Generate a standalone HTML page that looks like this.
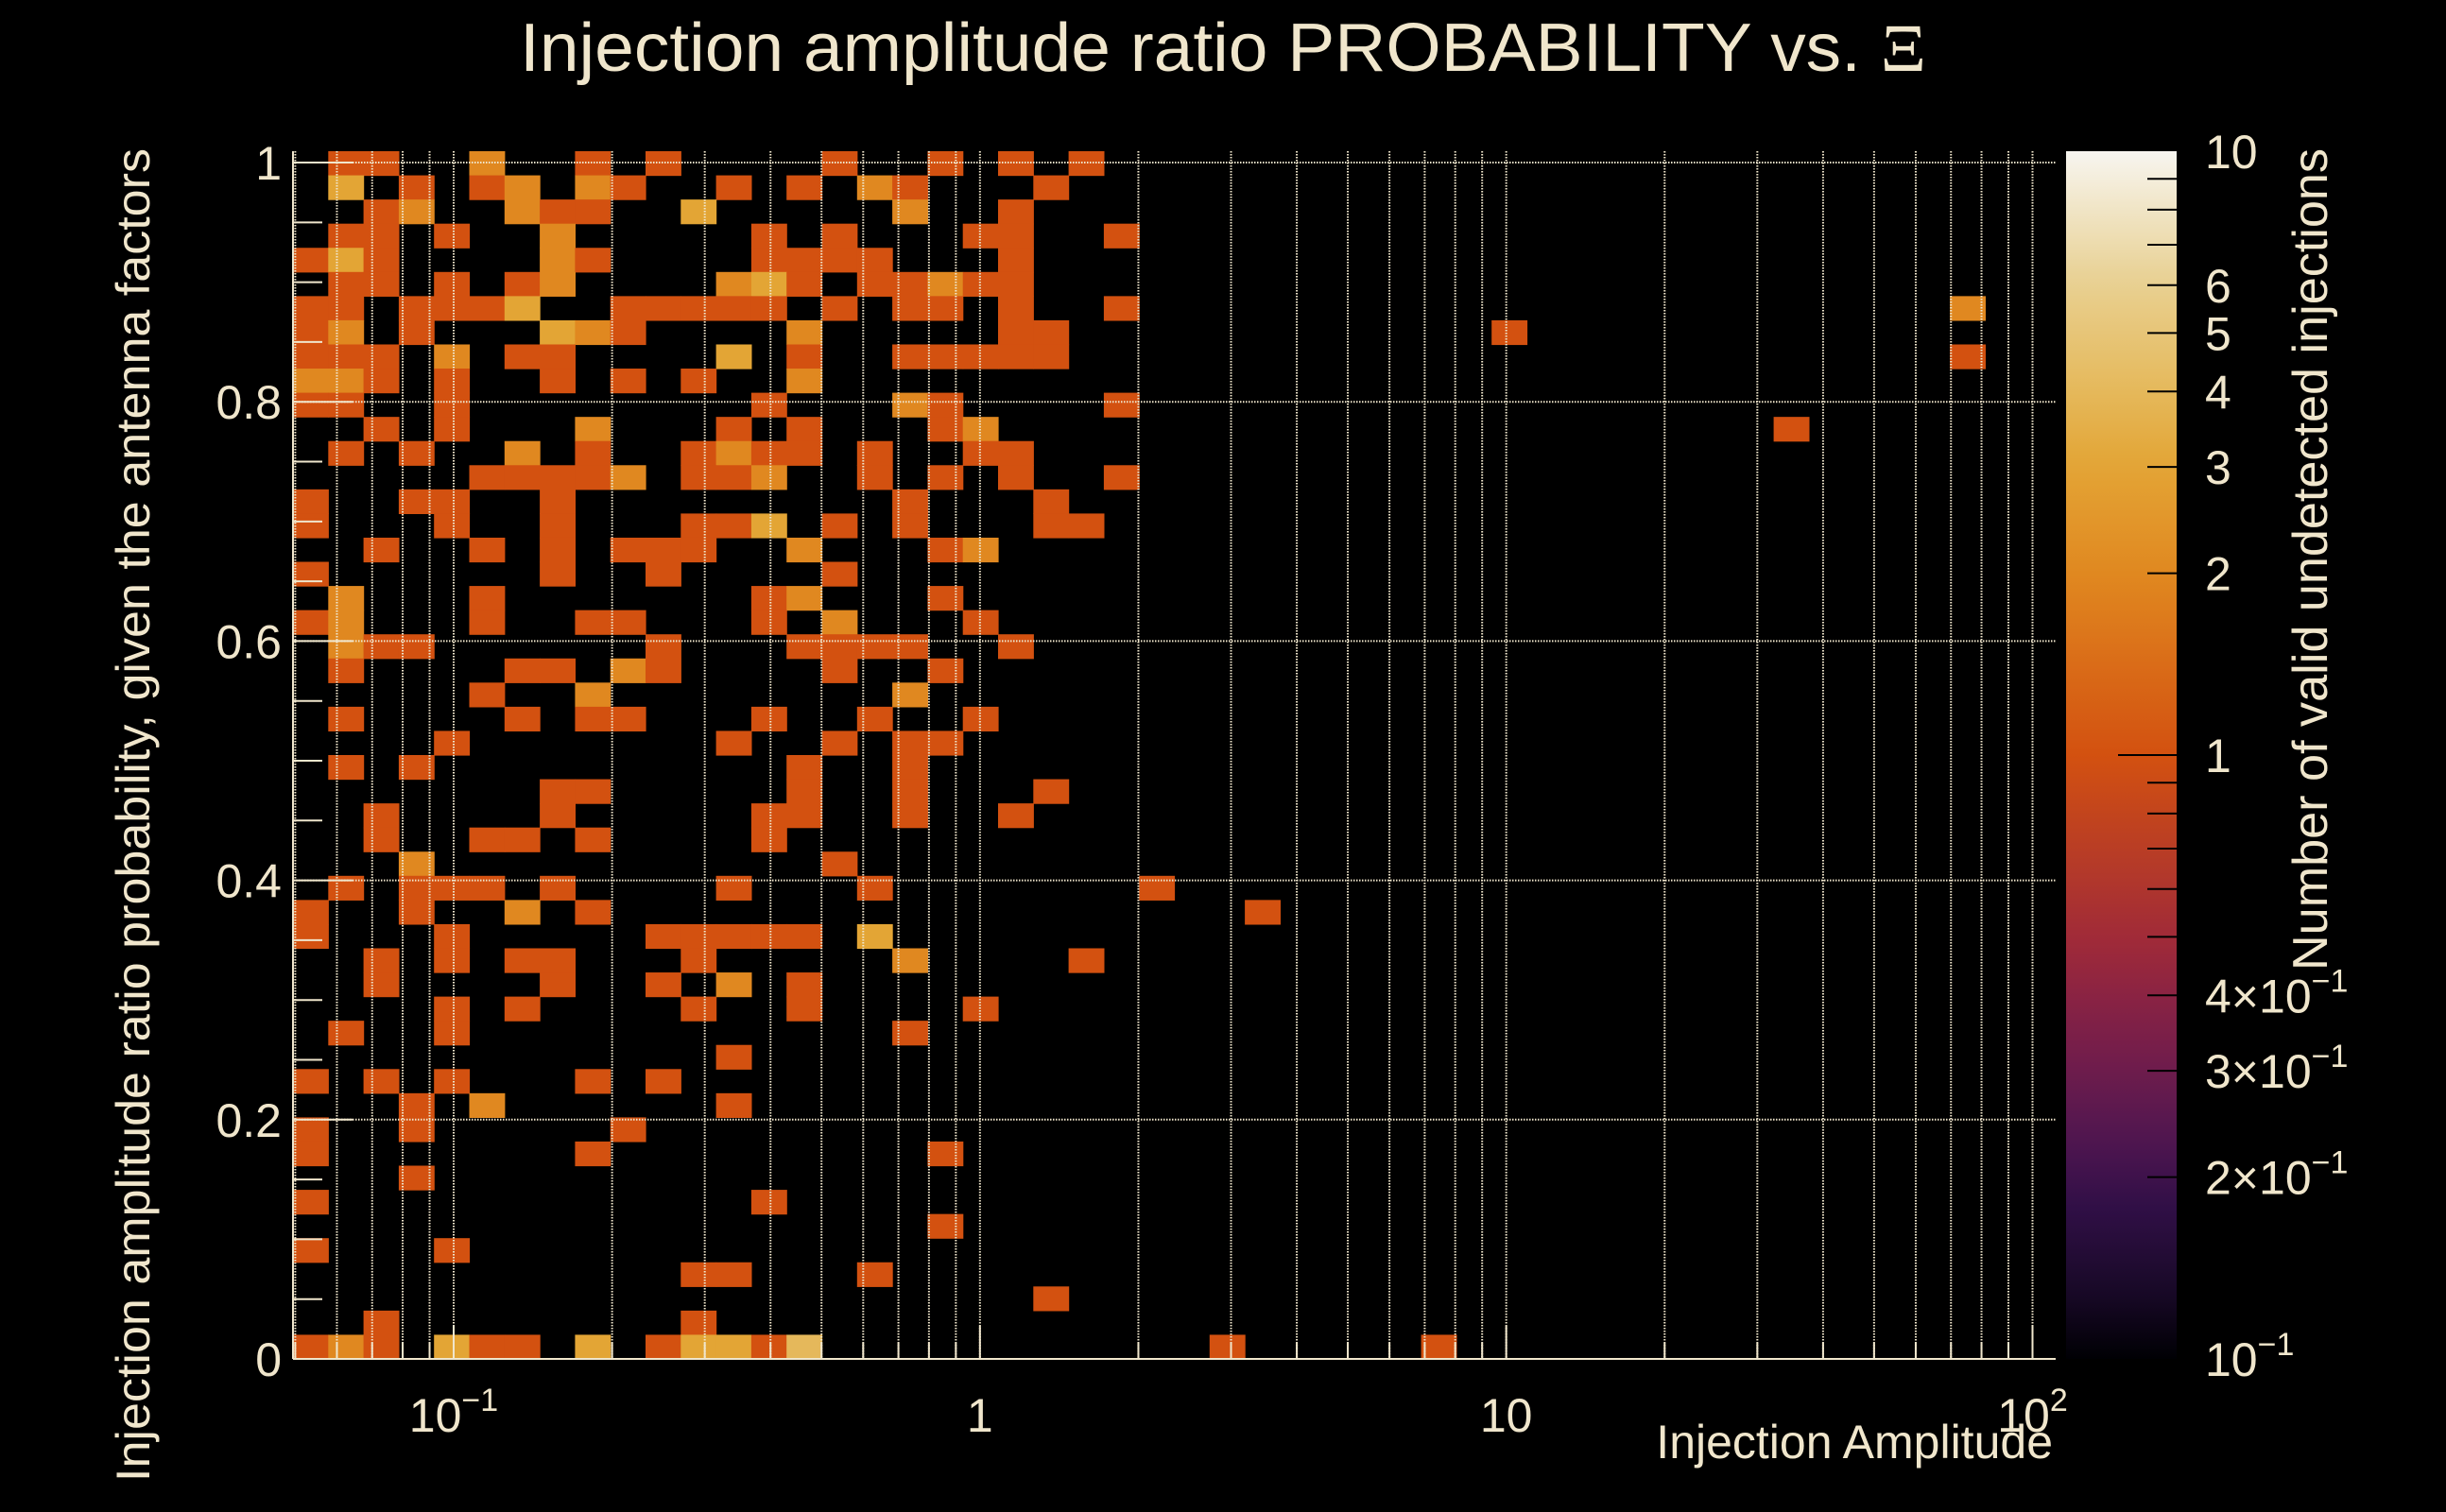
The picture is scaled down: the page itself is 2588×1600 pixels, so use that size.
<!DOCTYPE html>
<html><head><meta charset="utf-8"><style>
html,body{margin:0;padding:0;background:#000;}
svg{display:block;}
text{font-family:"Liberation Sans",sans-serif;fill:#F0E6CC;}
</style></head><body>
<svg id="chart" xmlns="http://www.w3.org/2000/svg" width="2588" height="1600" viewBox="0 0 2588 1600">
<rect x="0" y="0" width="2588" height="1600" fill="#000"/>
<defs><linearGradient id="cbgrad" x1="0" y1="1" x2="0" y2="0"></linearGradient></defs>
<g id="cells"></g>
<g id="grid"></g>
<g id="axes"></g>
<g id="colorbar"></g>
<text x="1294" y="75" font-size="72" text-anchor="middle" textLength="1488" lengthAdjust="spacingAndGlyphs">Injection amplitude ratio PROBABILITY vs.  <tspan font-family="'Liberation Serif',serif">Ξ</tspan></text>
<text x="2172" y="1543" font-size="50" text-anchor="end">Injection Amplitude</text>
<text transform="translate(158,157) rotate(-90)" font-size="50" text-anchor="end" textLength="1411" lengthAdjust="spacingAndGlyphs">Injection amplitude ratio probability, given the antenna factors</text>
<text transform="translate(2462,157) rotate(-90)" font-size="52" text-anchor="end" textLength="870" lengthAdjust="spacingAndGlyphs">Number of valid undetected injections</text>
</svg>
<script>
// ---- data: [binColumn (log x bin), binRow (y bin), count] ----
const cellData = [
[1,49,1],[2,49,1],[5,49,2],[8,49,1],[10,49,1],[15,49,1],[18,49,1],[20,49,1],[22,49,1],
[1,48,3],[3,48,1],[5,48,1],[6,48,2],[8,48,2],[9,48,1],[12,48,1],[14,48,1],[16,48,2],[17,48,1],[21,48,1],
[2,47,1],[3,47,2],[6,47,2],[7,47,1],[8,47,1],[11,47,3],[17,47,2],[20,47,1],
[1,46,1],[2,46,1],[4,46,1],[7,46,2],[13,46,1],[15,46,1],[19,46,1],[20,46,1],[23,46,1],
[0,45,1],[1,45,3],[2,45,1],[7,45,2],[8,45,1],[13,45,1],[14,45,1],[15,45,1],[16,45,1],[20,45,1],
[1,44,1],[2,44,1],[4,44,1],[6,44,1],[7,44,2],[12,44,2],[13,44,3],[14,44,1],[16,44,1],[17,44,1],[18,44,2],[19,44,1],[20,44,1],
[0,43,1],[1,43,1],[3,43,1],[4,43,1],[5,43,1],[6,43,3],[9,43,1],[10,43,1],[11,43,1],[12,43,1],[13,43,1],[15,43,1],[17,43,1],[18,43,1],[20,43,1],[23,43,1],[47,43,2],
[0,42,1],[1,42,2],[3,42,1],[7,42,3],[8,42,2],[9,42,1],[14,42,2],[20,42,1],[21,42,1],[34,42,1],
[0,41,1],[1,41,1],[2,41,1],[4,41,2],[6,41,1],[7,41,1],[12,41,3],[14,41,1],[17,41,1],[18,41,1],[19,41,1],[20,41,1],[21,41,1],[47,41,1],
[0,40,2],[1,40,2],[2,40,1],[4,40,1],[7,40,1],[9,40,1],[11,40,1],[14,40,2],
[0,39,1],[1,39,1],[4,39,1],[13,39,1],[17,39,2],[18,39,1],[23,39,1],
[2,38,1],[4,38,1],[8,38,2],[12,38,1],[14,38,1],[18,38,1],[19,38,2],[42,38,1],
[1,37,1],[3,37,1],[6,37,2],[8,37,1],[11,37,1],[12,37,2],[13,37,1],[14,37,1],[16,37,1],[19,37,1],[20,37,1],
[5,36,1],[6,36,1],[7,36,1],[8,36,1],[9,36,2],[11,36,1],[12,36,1],[13,36,2],[16,36,1],[18,36,1],[20,36,1],[23,36,1],
[0,35,1],[3,35,1],[4,35,1],[7,35,1],[17,35,1],[21,35,1],
[0,34,1],[4,34,1],[7,34,1],[11,34,1],[12,34,1],[13,34,3],[15,34,1],[17,34,1],[21,34,1],[22,34,1],
[2,33,1],[5,33,1],[7,33,1],[9,33,1],[10,33,1],[11,33,1],[14,33,2],[18,33,1],[19,33,2],
[0,32,1],[7,32,1],[10,32,1],[15,32,1],
[1,31,2],[5,31,1],[13,31,1],[14,31,2],[18,31,1],
[0,30,1],[1,30,2],[5,30,1],[8,30,1],[9,30,1],[13,30,1],[15,30,2],[19,30,1],
[1,29,2],[2,29,1],[3,29,1],[10,29,1],[14,29,1],[15,29,1],[16,29,1],[17,29,1],[20,29,1],
[1,28,1],[6,28,1],[7,28,1],[9,28,2],[10,28,1],[15,28,1],[18,28,1],
[5,27,1],[8,27,2],[17,27,2],
[1,26,1],[6,26,1],[8,26,1],[9,26,1],[13,26,1],[16,26,1],[19,26,1],
[4,25,1],[12,25,1],[15,25,1],[17,25,1],[18,25,1],
[1,24,1],[3,24,1],[14,24,1],[17,24,1],
[7,23,1],[8,23,1],[14,23,1],[17,23,1],[21,23,1],
[2,22,1],[7,22,1],[13,22,1],[14,22,1],[17,22,1],[20,22,1],
[2,21,1],[5,21,1],[6,21,1],[8,21,1],[13,21,1],
[3,20,2],[15,20,1],
[1,19,1],[3,19,1],[4,19,1],[5,19,1],[7,19,1],[12,19,1],[16,19,1],[24,19,1],
[0,18,1],[3,18,1],[6,18,2],[8,18,1],[27,18,1],
[0,17,1],[4,17,1],[10,17,1],[11,17,1],[12,17,1],[13,17,1],[14,17,1],[16,17,3],
[2,16,1],[4,16,1],[6,16,1],[7,16,1],[11,16,1],[17,16,2],[22,16,1],
[2,15,1],[7,15,1],[10,15,1],[12,15,2],[14,15,1],
[4,14,1],[6,14,1],[11,14,1],[14,14,1],[19,14,1],
[1,13,1],[4,13,1],[17,13,1],
[12,12,1],
[0,11,1],[2,11,1],[4,11,1],[8,11,1],[10,11,1],
[3,10,1],[5,10,2],[12,10,1],
[0,9,1],[3,9,1],[9,9,1],
[0,8,1],[8,8,1],[18,8,1],
[3,7,1],
[0,6,1],[13,6,1],
[18,5,1],
[0,4,1],[4,4,1],
[11,3,1],[12,3,1],[16,3,1],
[21,2,1],
[2,1,1],[11,1,1],
[0,0,1],[1,0,2],[2,0,1],[4,0,3],[5,0,1],[6,0,1],[8,0,3],[10,0,1],[11,0,3],[12,0,3],[13,0,1],[14,0,4],[26,0,1],[32,0,1]
];
const xTickValues = [0.1, 1, 10, 100];
const xTickBases = ["10", "1", "10", "10"];
const xTickExps = ["\u22121", "", "", "2"];
const yTickValues = [0, 0.2, 0.4, 0.6, 0.8, 1];
const yTickLabels = ["0", "0.2", "0.4", "0.6", "0.8", "1"];
const cbTickValues = [10, 6, 5, 4, 3, 2, 1, 0.4, 0.3, 0.2, 0.1];
const cbTickMain = ["10", "6", "5", "4", "3", "2", "1", "4\u00d710", "3\u00d710", "2\u00d710", "10"];
const cbTickExp = ["", "", "", "", "", "", "", "\u22121", "\u22121", "\u22121", "\u22121"];
// palette: [position on log colour axis (0..1), colour]
const paletteT = [0, 0.06, 0.13, 0.18, 0.24, 0.30, 0.35, 0.5, 0.65, 0.74, 0.80, 0.89, 1.0];
const paletteC = ["#000004","#1a0a2a","#320f48","#4f1650","#6e1c4c","#8a2343","#a12b38","#d35110","#e08820","#e3a535","#e5b85a","#e8d090","#f7f5f0"];

// ---- geometry ----
const NS = "http://www.w3.org/2000/svg";
const X0 = 310, X1 = 2175, Y0 = 160, Y1 = 1438;
const NBX = 50, NBY = 50;
const logMin = -1.3053, logMax = 2.044;
const yMin = 0, yMax = 1.0095;
const zMin = 0.1, zMax = 10;
const CB_X0 = 2186, CB_X1 = 2303;
const CREAM = "#F0E6CC";

function xPix(logv){ return X0 + (logv - logMin) / (logMax - logMin) * (X1 - X0); }
function yPix(v){ return Y1 - (v - yMin) / (yMax - yMin) * (Y1 - Y0); }
function colLog(c){ return logMin + c * (logMax - logMin) / NBX; }
function rowVal(r){ return yMin + r * (yMax - yMin) / NBY; }
function zT(z){ return (Math.log10(z) - Math.log10(zMin)) / (Math.log10(zMax) - Math.log10(zMin)); }
function zPix(z){ return Y1 - zT(z) * (Y1 - Y0); }
function hex2rgb(h){ return [parseInt(h.substr(1,2),16), parseInt(h.substr(3,2),16), parseInt(h.substr(5,2),16)]; }
function colorAt(t){
  t = Math.max(0, Math.min(1, t));
  for (let i = 1; i < paletteT.length; i++) {
    if (t <= paletteT[i]) {
      const f = (t - paletteT[i-1]) / (paletteT[i] - paletteT[i-1]);
      const a = hex2rgb(paletteC[i-1]), b = hex2rgb(paletteC[i]);
      return "rgb(" + a.map((v,k)=>Math.round(v + (b[k]-v)*f)).join(",") + ")";
    }
  }
  return paletteC[paletteC.length-1];
}
function mk(tag, attrs, parent){
  const el = document.createElementNS(NS, tag);
  for (const k in attrs) el.setAttribute(k, attrs[k]);
  parent.appendChild(el);
  return el;
}

// ---- cells ----
const gCells = document.getElementById("cells");
cellData.forEach(function(d){
  const xa = xPix(colLog(d[0])), xb = xPix(colLog(d[0] + 1));
  const ya = yPix(rowVal(d[1] + 1)), yb = yPix(rowVal(d[1]));
  const r = mk("rect", {x: xa.toFixed(2), y: ya.toFixed(2), width: (xb - xa + 0.6).toFixed(2), height: (yb - ya + 0.6).toFixed(2), fill: colorAt(zT(d[2]))}, gCells);
  
  
});

// ---- grid ----
const gGrid = document.getElementById("grid");
for (let dec = -2; dec <= 2; dec++) {
  for (let m = 1; m <= 9; m++) {
    const lv = Math.log10(m) + dec;
    if (lv <= logMin || lv >= logMax) continue;
    const x = xPix(lv);
    const l = mk("line", {x1: x, x2: x, y1: Y0, y2: Y1, stroke: CREAM, "stroke-width": 2, "stroke-dasharray": "1.5 1.5"}, gGrid);
    
    
    const tk = mk("line", {x1: x, x2: x, y1: Y1, y2: Y1 - (m === 1 ? 35 : 17), stroke: CREAM, "stroke-width": 2}, gGrid);
    
    
  }
}
yTickValues.forEach(function(v){
  if (v === 0) return;
  const y = yPix(v);
  const l = mk("line", {x1: X0, x2: X1, y1: y, y2: y, stroke: CREAM, "stroke-width": 2, "stroke-dasharray": "1.5 1.5"}, gGrid);
  
  
});

// ---- axes ----
const gAx = document.getElementById("axes");
const axL = mk("line", {x1: X0, x2: X0, y1: Y0, y2: Y1, stroke: CREAM, "stroke-width": 2}, gAx);


const axB = mk("line", {x1: X0, x2: X1, y1: Y1, y2: Y1, stroke: CREAM, "stroke-width": 2}, gAx);


for (let k = 0; k <= 20; k++) {
  const v = k * 0.05;
  const y = yPix(v);
  const tk = mk("line", {x1: X0, x2: X0 + (k % 4 === 0 ? 63 : 31), y1: y, y2: y, stroke: CREAM, "stroke-width": 2}, gAx);
  
  
}
yTickValues.forEach(function(v, i){
  const t = mk("text", {x: 298, y: yPix(v) + 18, "font-size": 50, "text-anchor": "end"}, gAx);
  t.textContent = yTickLabels[i];
  
  
});
xTickValues.forEach(function(v, i){
  const t = mk("text", {x: xPix(Math.log10(v)), y: 1515, "font-size": 50, "text-anchor": "middle"}, gAx);
  t.appendChild(document.createTextNode(xTickBases[i]));
  if (xTickExps[i]) {
    const s = mk("tspan", {dy: -22, "font-size": 34}, t);
    s.textContent = xTickExps[i];
  }
  
  
});

// ---- colour bar ----
const grad = document.getElementById("cbgrad");
for (let i = 0; i <= 40; i++) {
  const t = i / 40;
  mk("stop", {offset: t, "stop-color": colorAt(t)}, grad);
}
const gCb = document.getElementById("colorbar");
const cbr = mk("rect", {x: CB_X0, y: Y0, width: CB_X1 - CB_X0, height: Y1 - Y0, fill: "url(#cbgrad)"}, gCb);


const cbMinor = [0.2,0.3,0.4,0.5,0.6,0.7,0.8,0.9,1,2,3,4,5,6,7,8,9];
cbMinor.forEach(function(z){
  const y = zPix(z);
  const tk = mk("line", {x1: CB_X1 - (z === 1 ? 62 : 31), x2: CB_X1, y1: y, y2: y, stroke: "#000", "stroke-width": 2}, gCb);
  
  
});
cbTickValues.forEach(function(z, i){
  const t = mk("text", {x: 2333, y: zPix(z) + 18, "font-size": 50}, gCb);
  t.appendChild(document.createTextNode(cbTickMain[i]));
  if (cbTickExp[i]) {
    const s = mk("tspan", {dy: -22, "font-size": 34}, t);
    s.textContent = cbTickExp[i];
  }
  
  
});
</script>
</body></html>
